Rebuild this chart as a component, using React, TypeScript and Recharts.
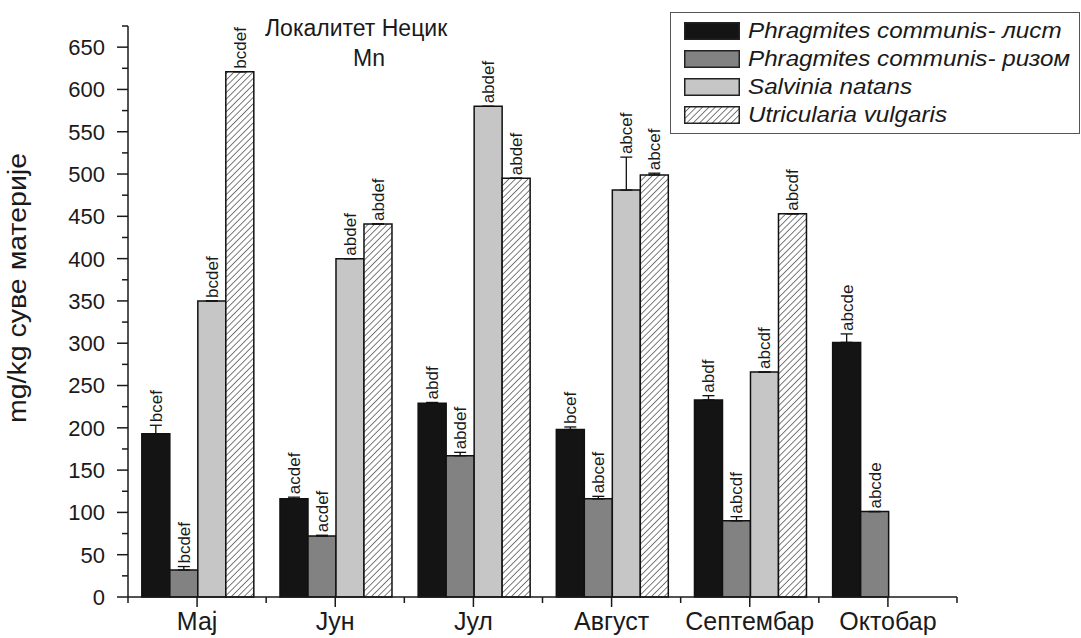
import React from 'react';
import { BarChart, Bar, XAxis, YAxis, ErrorBar, LabelList, Legend } from 'recharts';

const months = ['Мај', 'Јун', 'Јул', 'Август', 'Септембар', 'Октобар'];

const leafValues = [193, 116, 229, 198, 233, 301];
const rhizomeValues = [32, 72, 167, 116, 90, 101];
const salviniaValues = [350, 400, 580, 481, 266, null];
const utriculariaValues = [621, 441, 495, 499, 453, null];

const leafErrors = [10, 2, 1, 3, 5, 10];
const rhizomeErrors = [4, 1, 4, 3, 5, 0];
const salviniaErrors = [0, 0, 0, 39, 0, null];
const utriculariaErrors = [0, 0, 0, 2, 0, null];

const leafTags = ['bcef', 'acdef', 'abdf', 'bcef', 'abdf', 'abcde'];
const rhizomeTags = ['bcdef', 'acdef', 'abdef', 'abcef', 'abcdf', 'abcde'];
const salviniaTags = ['bcdef', 'abdef', 'abdef', 'abcef', 'abcdf', ''];
const utriculariaTags = ['bcdef', 'abdef', 'abdef', 'abcef', 'abcdf', ''];

const yTicks = [0, 25, 50, 75, 100, 125, 150, 175, 200, 225, 250, 275, 300, 325, 350,
  375, 400, 425, 450, 475, 500, 525, 550, 575, 600, 625, 650, 675];
const yTickLabels = [0, 50, 100, 150, 200, 250, 300, 350, 400, 450, 500, 550, 600, 650];

const series = [
  { key: 'leaf', name: 'Phragmites communis- лист', fill: '#141414', values: leafValues, errors: leafErrors, tags: leafTags },
  { key: 'rhizome', name: 'Phragmites communis- ризом', fill: '#828282', values: rhizomeValues, errors: rhizomeErrors, tags: rhizomeTags },
  { key: 'salvinia', name: 'Salvinia natans', fill: '#c6c6c6', values: salviniaValues, errors: salviniaErrors, tags: salviniaTags },
  { key: 'utricularia', name: 'Utricularia vulgaris', fill: 'url(#hatch)', values: utriculariaValues, errors: utriculariaErrors, tags: utriculariaTags },
];

const data = months.map((month, i) => {
  const row: any = { month };
  series.forEach((s) => {
    row[s.key] = s.values[i];
    row[s.key + 'Err'] = s.errors[i] == null ? null : [0, s.errors[i]];
    row[s.key + 'Tag'] = s.tags[i];
  });
  return row;
});

const CHART_W = 1081;
const CHART_H = 638;
const MARGIN = { top: 26, right: 124, bottom: 0, left: 28 };
const Y_AXIS_W = 100;
const X_AXIS_H = 41;
const AXIS_X = MARGIN.left + Y_AXIS_W;
const AXIS_Y = CHART_H - MARGIN.bottom - X_AXIS_H;
const BAND = (CHART_W - MARGIN.right - AXIS_X) / months.length;
const INK = '#1a1a1a';

const YTick = ({ y, payload }: any) => {
  const major = yTickLabels.includes(payload.value);
  return (
    <g>
      <line x1={AXIS_X - (major ? 11 : 6)} x2={AXIS_X} y1={y} y2={y} stroke={INK} strokeWidth={1.5} />
      {major && (
        <text x={AXIS_X - 23} y={y} dy="0.36em" textAnchor="end" fontSize={22} fill={INK}>
          {payload.value}
        </text>
      )}
    </g>
  );
};

const XTick = ({ x, payload, index }: any) => (
  <g>
    <line x1={x} x2={x} y1={AXIS_Y} y2={AXIS_Y + 10} stroke={INK} strokeWidth={1.5} />
    <line x1={x - BAND / 2} x2={x - BAND / 2} y1={AXIS_Y} y2={AXIS_Y + 6} stroke={INK} strokeWidth={1.5} />
    {index === months.length - 1 && (
      <line x1={x + BAND / 2} x2={x + BAND / 2} y1={AXIS_Y} y2={AXIS_Y + 6} stroke={INK} strokeWidth={1.5} />
    )}
    <text x={x} y={AXIS_Y + 33} textAnchor="middle" fontSize={25} fill={INK}>
      {payload.value}
    </text>
  </g>
);

const tagLabel = (key: string) => (props: any) => {
  const vb = props.viewBox ?? props;
  const { x, y, width, height } = vb;
  const { value, index } = props;
  const v = data[index]?.[key];
  if (v == null || !value || !height) return null;
  const err = data[index][key + 'Err'];
  const errPx = err ? (err[1] * height) / v : 0;
  const cx = x + width / 2 + 6;
  const top = y - errPx - 3;
  return (
    <text transform={`translate(${cx},${top}) rotate(-90)`} fontSize={17} fill={INK}>
      {value}
    </text>
  );
};

const Swatch = ({ fill }: { fill: string }) => (
  <svg width={56} height={18} style={{ display: 'block' }}>
    <defs>
      <pattern id="hatchLegend" patternUnits="userSpaceOnUse" width={4.5} height={4.5} patternTransform="rotate(45)">
        <rect width={4.5} height={4.5} fill="#fff" />
        <line x1={0} y1={0} x2={0} y2={4.5} stroke="#222" strokeWidth={1.2} />
      </pattern>
    </defs>
    <rect x={0.75} y={0.75} width={54.5} height={16.5}
      fill={fill === 'url(#hatch)' ? 'url(#hatchLegend)' : fill} stroke="#222" strokeWidth={1.5} />
  </svg>
);

const LegendBox = () => (
  <div style={{
    border: '1.5px solid #555', background: '#fff', padding: '3.5px 0 4.5px 12.5px',
    width: 410, boxSizing: 'border-box',
  }}>
    {series.map((s) => (
      <div key={s.key} style={{ display: 'flex', alignItems: 'center', height: 28 }}>
        <Swatch fill={s.fill} />
        <span style={{
          marginLeft: 8, fontSize: 22, fontStyle: 'italic', whiteSpace: 'nowrap', color: INK,
          display: 'inline-block', transform: 'scaleX(1.1)', transformOrigin: 'left center',
        }}>
          {s.name}
        </span>
      </div>
    ))}
  </div>
);

export default function App() {
  return (
    <div style={{
      position: 'absolute', left: 0, top: 0, width: CHART_W, height: CHART_H,
      background: '#fff', fontFamily: '"Liberation Sans", Arial, sans-serif',
    }}>
      <BarChart width={CHART_W} height={CHART_H} data={data} margin={MARGIN}
        barGap={0} barCategoryGap="10%">
        <defs>
          <pattern id="hatch" patternUnits="userSpaceOnUse" width={4.5} height={4.5} patternTransform="rotate(45)">
            <rect width={4.5} height={4.5} fill="#fff" />
            <line x1={0} y1={0} x2={0} y2={4.5} stroke="#222" strokeWidth={1.2} />
          </pattern>
        </defs>
        <XAxis dataKey="month" height={X_AXIS_H} tickLine={false} interval={0}
          axisLine={{ stroke: INK, strokeWidth: 1.5 }} tick={<XTick />} />
        <YAxis width={Y_AXIS_W} domain={[0, 675]} ticks={yTicks} interval={0} tickLine={false}
          tickSize={11} tickMargin={12} axisLine={{ stroke: INK, strokeWidth: 1.5 }} tick={<YTick />} />
        <Legend layout="vertical" align="center" verticalAlign="middle"
          wrapperStyle={{ left: 670, top: 12, width: 410 }} content={<LegendBox />} />
        {series.map((s) => (
          <Bar key={s.key} dataKey={s.key} name={s.name} fill={s.fill} stroke="#111"
            strokeWidth={1.5} isAnimationActive={false}>
            <ErrorBar dataKey={s.key + 'Err'} width={6} stroke="#111" strokeWidth={1.3} direction="y" />
            <LabelList dataKey={s.key + 'Tag'} content={tagLabel(s.key)} />
          </Bar>
        ))}
        <text x={265} y={36} fontSize={23} fill={INK}>Локалитет Нецик</text>
        <text x={369} y={66} fontSize={23} fill={INK} textAnchor="middle">Mn</text>
        <text transform="translate(26,288) rotate(-90)" fontSize={26} fill={INK} textAnchor="middle"
          textLength={270} lengthAdjust="spacingAndGlyphs">
          mg/kg суве материје
        </text>
      </BarChart>
    </div>
  );
}
